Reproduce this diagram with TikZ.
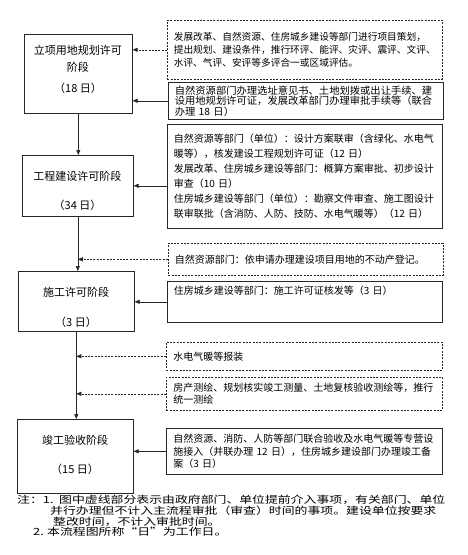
\documentclass[tikz,border=0pt]{standalone}
\usepackage{fontspec}
\setmainfont{Noto Sans CJK SC}
\newfontfamily\widea{Noto Sans CJK SC}[FakeStretch=1.03]
\newfontfamily\wideb{Noto Sans CJK SC}[FakeStretch=1.3]
\usetikzlibrary{arrows.meta}
\tikzset{
  box/.style={draw=black!85, line width=0.6pt, anchor=north west, inner sep=0pt},
  dbox/.style={box, dash pattern=on 2pt off 1.3pt},
  rtext/.style={align=left, text width=262pt, inner xsep=6.5pt, inner ysep=2pt},
  ltext/.style={align=center, font=\fontsize{11}{14.5}\selectfont, inner sep=0pt},
  note/.style={anchor=west, inner sep=0pt, font=\wideb\fontsize{9.9}{11}\selectfont},
  arr/.style={draw=black!85, line width=0.6pt, -{Triangle[length=5pt,width=4pt]}},
  darr/.style={arr, dash pattern=on 2pt off 1.3pt},
}
\begin{document}
\begin{tikzpicture}[x=1pt,y=-1pt]
\useasboundingbox (0,0) rectangle (468,555);
% left stage boxes
\node[box, minimum width=108pt, minimum height=79pt] (b1) at (24,34) {};
\node[box, minimum width=111pt, minimum height=61pt] (b2) at (22,155) {};
\node[box, minimum width=116pt, minimum height=60pt] (b3) at (18,271) {};
\node[box, minimum width=116pt, minimum height=74pt] (b4) at (17,419) {};
\node[ltext, font=\fontsize{11}{17}\selectfont] (t1) at (78,69) {立项用地规划许可\\阶段\\[4pt]（18 日）};
\node[ltext] (t2) at (77.5,190.5) {工程建设许可阶段\\[14.5pt]（34 日）};
\node[ltext] (t3) at (76,307) {施工许可阶段\\[15.5pt]（3 日）};
\node[ltext] (t4) at (75,454.5) {竣工验收阶段\\[14.5pt]（15 日）};
% right boxes
\node[dbox, rtext, font=\fontsize{9.7}{13}\selectfont, minimum width=275pt, minimum height=59pt] (r1) at (167,20)
  {发展改革、自然资源、住房城乡建设等部门进行项目策划，\\提出规划、建设条件，推行环评、能评、灾评、震评、文评、\\水评、气评、安评等多评合一或区域评估。};
\node[box, rtext, font=\widea\fontsize{10}{10.5}\selectfont, minimum width=275pt, minimum height=37pt] (r2) at (168,82)
  {自然资源部门办理选址意见书、土地划拨或出让手续、建\\设用地规划许可证，发展改革部门办理审批手续等（联合\\办理 18 日）};
\node[box, rtext, font=\fontsize{10}{15}\selectfont, minimum width=275pt, minimum height=104pt] (r3) at (167,124)
  {自然资源等部门（单位）：设计方案联审（含绿化、水电气\\暖等），核发建设工程规划许可证（12 日）\\发展改革、住房城乡建设等部门：概算方案审批、初步设计\\审查（10 日）\\住房城乡建设等部门（单位）：勘察文件审查、施工图设计\\联审联批（含消防、人防、技防、水电气暖等）（12 日）};
\node[dbox, rtext, font=\fontsize{10}{13}\selectfont, minimum width=274pt, minimum height=32pt] (r4) at (168,243)
  {自然资源部门：依申请办理建设项目用地的不动产登记。};
\node[box, rtext, font=\fontsize{10}{12}\selectfont, minimum width=275pt, minimum height=41pt] (r5) at (167,281)
  {住房城乡建设等部门：施工许可证核发等（3 日）\\\mbox{}\\\mbox{}};
\node[dbox, rtext, font=\fontsize{10}{13}\selectfont, minimum width=276pt, minimum height=28pt] (r6) at (166,342)
  {水电气暖等报装};
\node[dbox, rtext, font=\fontsize{10}{11.5}\selectfont, minimum width=276pt, minimum height=33pt] (r7) at (166,377)
  {房产测绘、规划核实竣工测量、土地复核验收测绘等，推行\\统一测绘};
\node[box, rtext, font=\fontsize{10}{12.5}\selectfont, minimum width=276pt, minimum height=46pt] (r8) at (166,428)
  {自然资源、消防、人防等部门联合验收及水电气暖等专营设\\施接入（并联办理 12 日），住房城乡建设部门办理竣工备\\案（3 日）};
% main flow
\draw[arr] (b1.south) -- (b1.south |- b2.north);
\draw[arr] (b2.south) -- (b2.south |- b3.north);
\draw[arr] (b3.south) -- (b3.south |- b4.north);
% side connectors
\draw[darr] (r1.west) -- (r1.west -| b1.east);
\draw[arr] (r2.west) -- (r2.west -| b1.east);
\draw[arr] (r3.west |- b2.east) -- (b2.east);
\draw[darr] (r4.west) -- (r4.west -| b2.south);
\draw[arr] (r5.west) -- (r5.west -| b3.east);
\draw[darr] (r6.west) -- (r6.west -| b3.south);
\draw[darr] (r7.west) -- (r7.west -| b3.south);
\draw[arr] (r8.west) -- (r8.west -| b4.east);
% notes
\node[note] (n1a) at (17,500) {注：1.};
\node[note] (n1) at (59,500) {图中虚线部分表示由政府部门、单位提前介入事项，有关部门、单位};
\node[note] (n2) at (50,511) {并行办理但不计入主流程审批（审查）时间的事项。建设单位按要求};
\node[note] (n3) at (53,521.5) {整改时间，不计入审批时间。};
\node[note] (n4a) at (33,532) {2.};
\node[note] (n4) at (47,532) {本流程图所称“日”为工作日。};
\end{tikzpicture}
\end{document}
